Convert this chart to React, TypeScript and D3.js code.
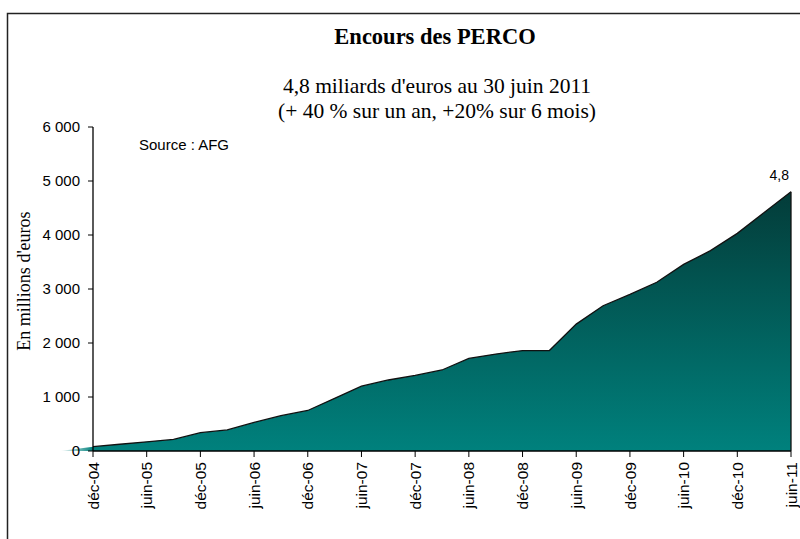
import React from "react";
import * as d3 from "d3";

const quarters = [
  "déc-04","mar-05","juin-05","sept-05","déc-05","mar-06","juin-06","sept-06",
  "déc-06","mar-07","juin-07","sept-07","déc-07","mar-08","juin-08","sept-08",
  "déc-08","mar-09","juin-09","sept-09","déc-09","mar-10","juin-10","sept-10",
  "déc-10","mar-11","juin-11"
];
const encours = [
  80, 125, 170, 215, 340, 390, 530, 655,
  750, 975, 1200, 1315, 1400, 1500, 1715, 1795,
  1860, 1860, 2350, 2690, 2900, 3125, 3455, 3710,
  4030, 4415, 4800
];
const xTickLabels = [
  "déc-04","juin-05","déc-05","juin-06","déc-06","juin-07","déc-07",
  "juin-08","déc-08","juin-09","déc-09","juin-10","déc-10","juin-11"
];
const yTicks = [0, 1000, 2000, 3000, 4000, 5000, 6000];

const W = 800, H = 539;
const left = 93, right = 791, top = 127, bottom = 451;
const SANS = "Liberation Sans, Arial, sans-serif";
const SERIF = "Liberation Serif, Times New Roman, serif";

export default function App() {
  const x = d3.scalePoint<string>().domain(quarters).range([left, right]);
  const y = d3.scaleLinear().domain([0, 6000]).range([bottom, top]);
  const data = quarters.map((q, i) => ({ q, v: encours[i] }));
  const area = d3.area<{ q: string; v: number }>()
    .x(d => x(d.q)!)
    .y0(y(0))
    .y1(d => y(d.v));
  const line = d3.line<{ q: string; v: number }>()
    .x(d => x(d.q)!)
    .y(d => y(d.v));
  const fmt = (v: number) => d3.format(",")(v).replace(/,/g, " ");
  const last = data[data.length - 1];
  const first = data[0];
  const x0 = x(first.q)!;

  return (
    <svg width={W} height={H} style={{ position: "absolute", left: 0, top: 0 }}>
      <defs>
        <linearGradient id="fillGrad" x1="0" y1="0" x2="0" y2="1">
          <stop offset="0%" stopColor="#033c39" />
          <stop offset="100%" stopColor="#00817d" />
        </linearGradient>
        <linearGradient id="tailGrad" x1="0" y1="0" x2="1" y2="0">
          <stop offset="0%" stopColor="#00817d" stopOpacity={0} />
          <stop offset="100%" stopColor="#00817d" stopOpacity={1} />
        </linearGradient>
      </defs>
      <rect x={7.5} y={13.5} width={W} height={540} fill="white" stroke="#222" strokeWidth={1.5} />
      <text x={435} y={44} textAnchor="middle" fontFamily={SERIF} fontWeight="bold" fontSize={22.5}>Encours des PERCO</text>
      <text x={437} y={93} textAnchor="middle" fontFamily={SERIF} fontSize={21.5}>4,8 miliards d'euros au 30 juin 2011</text>
      <text x={437} y={118} textAnchor="middle" fontFamily={SERIF} fontSize={21.5}>(+ 40 % sur un an, +20% sur 6 mois)</text>

      <polygon points={`${x0 - 33},${y(0)} ${x0},${y(first.v)} ${x0},${y(0)}`} fill="url(#tailGrad)" />
      <path d={area(data)!} fill="url(#fillGrad)" />
      <path d={line(data)!} fill="none" stroke="#111" strokeWidth={1.3} />
      <line x1={x(last.q)!} x2={x(last.q)!} y1={y(last.v)} y2={y(0)} stroke="#111" strokeWidth={1.3} />

      <line x1={left} x2={left} y1={top} y2={bottom} stroke="#000" strokeWidth={1.3} />
      <line x1={left} x2={right} y1={bottom} y2={bottom} stroke="#000" strokeWidth={1.5} />
      {yTicks.map(t => (
        <g key={t}>
          <line x1={left - 5} x2={left} y1={y(t)} y2={y(t)} stroke="#000" />
          <text x={left - 13} y={y(t)} dy="0.35em" textAnchor="end" fontFamily={SANS} fontSize={15}>{fmt(t)}</text>
        </g>
      ))}
      {xTickLabels.map(lbl => (
        <g key={lbl}>
          <line x1={x(lbl)!} x2={x(lbl)!} y1={bottom} y2={bottom + 6} stroke="#000" />
          <text transform={`translate(${x(lbl)!},${bottom + 11}) rotate(-90)`} dy="0.36em" textAnchor="end" fontFamily={SANS} fontSize={15.5}>{lbl}</text>
        </g>
      ))}
      <text transform={`translate(30,281) rotate(-90)`} textAnchor="middle" fontFamily={SERIF} fontSize={18}>En millions d'euros</text>
      <text x={139} y={150} fontFamily={SANS} fontSize={15}>Source : AFG</text>
      <text x={789} y={y(last.v) - 12} textAnchor="end" fontFamily={SANS} fontSize={14}>{(last.v / 1000).toFixed(1).replace(".", ",")}</text>
    </svg>
  );
}
